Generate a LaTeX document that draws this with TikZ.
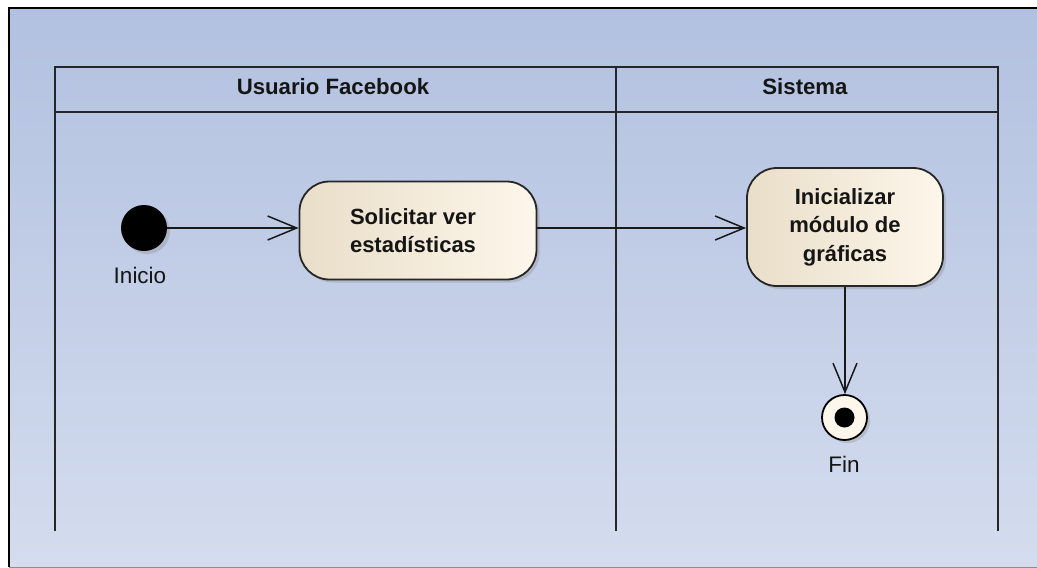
\documentclass[tikz,border=0pt]{standalone}
\usepackage{fontspec}
\setmainfont{Liberation Sans}
\usetikzlibrary{arrows.meta,shadows}
\definecolor{bgT}{HTML}{B2C1E0}
\definecolor{bgB}{HTML}{D4DCEE}
\definecolor{actL}{HTML}{E9DEC9}
\definecolor{actR}{HTML}{FDF6EA}
\definecolor{txt}{HTML}{151515}
\begin{document}
\begin{tikzpicture}[x=1pt,y=-1pt,
  lane/.style={draw=black!85, line width=2pt},
  shad/.style={drop shadow={shadow xshift=3pt,shadow yshift=-3pt,opacity=0.3}},
  act/.style={draw=black!85, line width=1.8pt, rounded corners=30pt, left color=actL, right color=actR, shad,
    font=\bfseries\fontsize{22}{28.5}\selectfont, text=txt, align=center, inner sep=0pt},
  flow/.style={draw=black!90, line width=1.5pt, -{Straight Barb[length=29pt,width=24pt,line width=1.5pt]}},
  lbl/.style={font=\fontsize{22.5}{26}\selectfont, text=txt},
  hdr/.style={font=\bfseries\fontsize{22.2}{26}\selectfont, text=txt}]
\useasboundingbox (0,0) rectangle (1037,568);
\fill[white] (0,0) rectangle (1037,568);
\shade[top color=bgT, bottom color=bgB] (9,8) rectangle (1050,567);
\draw[black, line width=2pt] (9,567) -- (9,8) -- (1050,8);
\draw[black!45, line width=1pt] (9,567) -- (1050,567);
% swimlanes
\draw[lane] (55,531) -- (55,67) -- (998,67) -- (998,531);
\draw[lane] (55,112) -- (998,112);
\draw[lane] (616,67) -- (616,531);
\node[hdr, anchor=base] (h1) at (333,94) {Usuario Facebook};
\node[hdr, anchor=base] (h2) at (805,94) {Sistema};
% nodes
\node[circle, fill=black, minimum size=46pt, inner sep=0pt, shad] (init) at (144,228) {};
\node[lbl, anchor=base] (initl) at (140,283) {Inicio};
\node[act, minimum width=237pt, minimum height=98pt] (s1) at (418,230.5) {\hspace*{-10pt}Solicitar ver\\\hspace*{-10pt}estadísticas};
\node[act, minimum width=196pt, minimum height=118pt] (s2) at (845,227) {Inicializar\\módulo de\\gráficas};
\node[circle, draw=black, line width=1.8pt, fill=actR, minimum size=45pt, inner sep=0pt, shad] (fin) at (844.5,417.5) {};
\node[circle, fill=black, minimum size=20pt, inner sep=0pt] (findot) at (fin) {};
\node[lbl, anchor=base] (finl) at (844,472) {Fin};
% flows
\draw[flow] (init) -- (s1.west |- init);
\draw[flow] (s1.east |- init) -- (s2.west |- init);
\draw[flow] (s2.south) -- (s2.south |- fin.north);
\end{tikzpicture}
\end{document}
